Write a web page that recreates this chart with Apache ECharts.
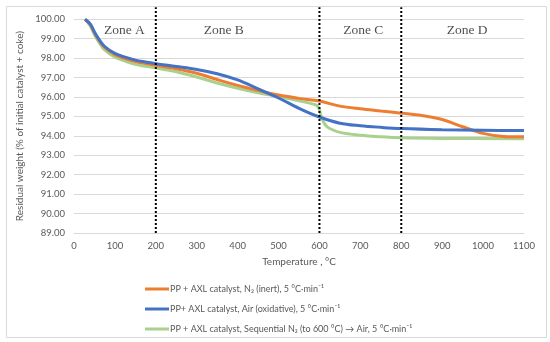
<!DOCTYPE html>
<html>
<head>
<meta charset="utf-8">
<script src="https://cdn.jsdelivr.net/npm/echarts@6/dist/echarts.min.js"></script>
<style>html,body{margin:0;padding:0;background:#fff}#c{width:550px;height:342px}</style>
</head>
<body>
<div id="c"></div>
<script>
var seriesNames = [
  'PP + AXL catalyst, N\u2082 (inert), 5 \u00B0C\u00B7min\u207B\u00B9',
  'PP+ AXL catalyst, Air (oxidative), 5 \u00B0C\u00B7min\u207B\u00B9',
  'PP + AXL catalyst, Sequential N\u2082 (to 600 \u00B0C) \u2192 Air, 5 \u00B0C\u00B7min\u207B\u00B9'
];
var inertData = [[27,100],[40,99.72],[50,99.3],[60,98.95],[75,98.55],[100,98.18],[125,97.98],[150,97.82],[175,97.72],[200,97.63],[250,97.45],[300,97.22],[350,96.9],[400,96.6],[450,96.34],[500,96.1],[550,95.93],[600,95.79],[650,95.53],[700,95.39],[750,95.28],[800,95.17],[850,95.05],[900,94.84],[950,94.47],[1000,94.13],[1050,93.97],[1100,93.95]];
var airData = [[27,100],[40,99.75],[50,99.35],[60,99.0],[75,98.6],[100,98.25],[125,98.05],[150,97.9],[175,97.8],[200,97.71],[250,97.57],[300,97.42],[350,97.2],[400,96.88],[450,96.42],[500,95.95],[550,95.42],[600,94.97],[650,94.65],[700,94.52],[750,94.44],[800,94.38],[900,94.32],[1000,94.29],[1100,94.27]];
var seqData = [[27,100],[40,99.65],[50,99.2],[60,98.85],[75,98.42],[100,98.05],[125,97.85],[150,97.68],[175,97.58],[200,97.5],[250,97.3],[300,97.03],[350,96.72],[400,96.45],[450,96.22],[500,96.02],[550,95.8],[590,95.6],[598,95.45],[603,95.1],[608,94.8],[615,94.55],[625,94.38],[650,94.18],[700,94.03],[750,93.95],[800,93.9],[900,93.87],[1100,93.85]];
var zoneBoundaries = [200, 600, 800];
var zoneNames = ['Zone A','Zone B','Zone C','Zone D'];
var zoneCenters = [123, 366, 707, 961];
var zoneLabelLevel = 99.42;
var boundaryBottom = 89, boundaryTop = 100.62;

var chart = echarts.init(document.getElementById('c'));
var sansFont = 'Lato';
var series = [];
series.push({name: seriesNames[2], type:'line', data: seqData, showSymbol:false, smooth:0.35, lineStyle:{color:'#A9D18E', width:3}, itemStyle:{color:'#A9D18E'}, z:2});
series.push({name: seriesNames[0], type:'line', data: inertData, showSymbol:false, smooth:0.35, lineStyle:{color:'#ED7D31', width:3}, itemStyle:{color:'#ED7D31'}, z:3});
series.push({name: seriesNames[1], type:'line', data: airData, showSymbol:false, smooth:0.35, lineStyle:{color:'#4472C4', width:3}, itemStyle:{color:'#4472C4'}, z:4});
zoneBoundaries.forEach(function(b){
  series.push({type:'line', data:[[b,boundaryBottom],[b,boundaryTop]], showSymbol:false, clip:false, silent:true,
    lineStyle:{color:'#000', width:2, type:[2,2]}, z:5});
});
series.push({type:'scatter', symbolSize:0, silent:true, clip:false,
  data: zoneNames.map(function(n,i){return {value:[zoneCenters[i], zoneLabelLevel], name:n};}),
  label:{show:true, position:'inside', formatter:'{b}', fontFamily:'Liberation Serif', fontSize:13.5, color:'#222'}, z:6});

chart.setOption({
  animation:false,
  backgroundColor:'#fff',
  grid:{left:74, right:26, top:19.3, bottom:109},
  graphic:[{type:'rect', shape:{x:6.5,y:6.5,width:540,height:331}, style:{fill:null, stroke:'#d9d9d9', lineWidth:1}, silent:true, z:-1}],
  legend:{orient:'vertical', left:140, top:278, itemWidth:24, itemHeight:3, itemGap:8, icon:'rect',
    data: seriesNames, textStyle:{fontFamily:sansFont, fontSize:9, color:'#595959', lineHeight:12, padding:[0,0,0,-4]}},
  xAxis:{type:'value', min:0, max:1100, interval:100,
    name:'Temperature , \u00B0C', nameLocation:'middle', nameGap:24,
    nameTextStyle:{fontFamily:sansFont, fontSize:10, color:'#595959'},
    axisLine:{show:true, lineStyle:{color:'#d9d9d9'}}, axisTick:{show:false},
    axisLabel:{fontFamily:sansFont, fontSize:9.5, color:'#595959', margin:8, formatter:function(v){return String(v);}},
    splitLine:{show:false}},
  yAxis:{type:'value', min:89, max:100, interval:1,
    name:'Residual weight (% of initial catalyst + coke)', nameLocation:'middle', nameGap:40,
    nameTextStyle:{fontFamily:sansFont, fontSize:10, color:'#595959'},
    axisLine:{show:false}, axisTick:{show:false},
    axisLabel:{fontFamily:sansFont, fontSize:9.5, color:'#595959', margin:9, formatter:function(v){return v.toFixed(2);}},
    splitLine:{show:true, lineStyle:{color:'#d9d9d9', width:1}}},
  series: series
});
</script>
</body>
</html>
